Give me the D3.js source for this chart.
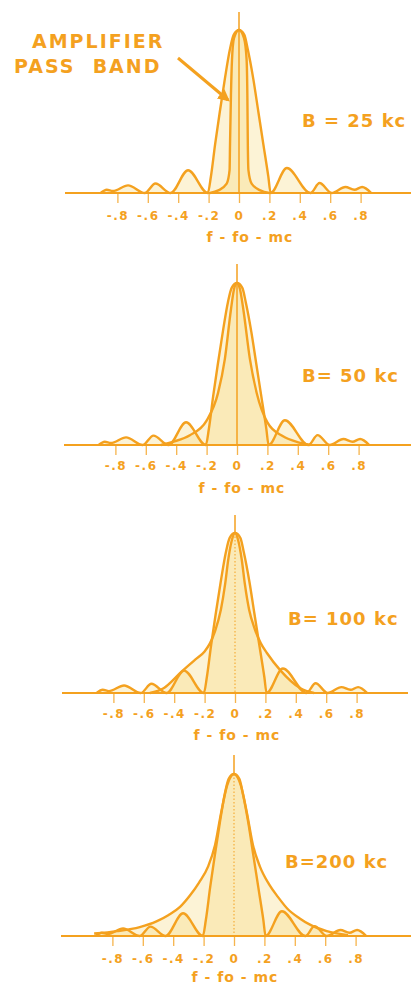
<!DOCTYPE html>
<html>
<head>
    <meta charset="UTF-8">
    <title>Pulse spectrum and amplifier pass band</title>
    <script src="https://d3js.org/d3.v7.min.js"></script>
    <style>
        body { margin: 0; background: #ffffff; }
        text { font-family: "DejaVu Sans", sans-serif; font-weight: bold; fill: #f4a11f; }
    </style>
</head>
<body>
<script>
    // tick values and labels on the f - fo axis (mc)
    var tickValues = [-0.8, -0.6, -0.4, -0.2, 0, 0.2, 0.4, 0.6, 0.8];
    var tickLabels = ["-.8", "-.6", "-.4", "-.2", "0", ".2", ".4", ".6", ".8"];

    // pulse spectrum (relative amplitude), same in every panel
    var specX = [-0.91, -0.87, -0.83, -0.73, -0.62, -0.55, -0.45, -0.335, -0.205, -0.185, -0.157, -0.126, -0.093, -0.06, -0.035, 0,
                 0.035, 0.058, 0.094, 0.127, 0.16, 0.193, 0.208, 0.315, 0.47, 0.53, 0.61, 0.70, 0.76, 0.81, 0.87];
    var specV = [0, 0.02, 0.012, 0.047, 0, 0.058, 0, 0.14, 0, 0.1, 0.3, 0.5, 0.7, 0.88, 0.97, 1,
                 0.97, 0.88, 0.7, 0.5, 0.3, 0.1, 0, 0.153, 0, 0.061, 0, 0.037, 0.02, 0.037, 0];

    // amplifier pass band for each bandwidth
    var pass25X = [-0.19, -0.136, -0.081, -0.062, -0.059, -0.053, -0.046, -0.033, 0, 0.033, 0.05, 0.055, 0.058, 0.062, 0.083, 0.14, 0.2];
    var pass25V = [0, 0.016, 0.057, 0.14, 0.3, 0.6, 0.82, 0.95, 1, 0.95, 0.82, 0.6, 0.3, 0.14, 0.057, 0.016, 0];

    var pass50X = [-0.5, -0.42, -0.31, -0.2, -0.125, -0.08, -0.04, -0.02, 0, 0.02, 0.042, 0.085, 0.13, 0.2, 0.3, 0.41, 0.48];
    var pass50V = [0, 0.02, 0.06, 0.15, 0.32, 0.53, 0.835, 0.96, 1, 0.96, 0.835, 0.53, 0.32, 0.14, 0.055, 0.015, 0];

    var pass100X = [-0.56, -0.47, -0.35, -0.26, -0.2, -0.165, -0.13, -0.093, -0.065, -0.045, -0.022, 0,
                    0.022, 0.045, 0.065, 0.093, 0.13, 0.17, 0.21, 0.3, 0.43, 0.52];
    var pass100V = [0, 0.03, 0.135, 0.21, 0.26, 0.31, 0.39, 0.52, 0.68, 0.83, 0.95, 1,
                    0.95, 0.83, 0.68, 0.52, 0.4, 0.31, 0.25, 0.14, 0.03, 0];

    var pass200X = [-0.92, -0.77, -0.62, -0.51, -0.43, -0.355, -0.29, -0.23, -0.17, -0.125, -0.085, -0.045, 0,
                    0.045, 0.085, 0.125, 0.17, 0.23, 0.29, 0.35, 0.43, 0.5, 0.61, 0.75];
    var pass200V = [0.015, 0.03, 0.055, 0.09, 0.13, 0.18, 0.25, 0.33, 0.43, 0.56, 0.76, 0.93, 1,
                    0.93, 0.76, 0.56, 0.43, 0.32, 0.24, 0.17, 0.11, 0.07, 0.03, 0.005];

    var bandLabels = ["B = 25 kc", "B= 50 kc", "B= 100 kc", "B=200 kc"];
    var passX = [pass25X, pass50X, pass100X, pass200X];
    var passV = [pass25V, pass50V, pass100V, pass200V];

    // where each panel sits on the page
    var layout = [
        {cx: 239, base: 193, peak: 30,  top: 12,  left: 65, right: 411, labX: 302, labY: 127, lblOff: 27, titleX: 250, titleY: 242, dotted: false},
        {cx: 237, base: 445, peak: 283, top: 264, left: 64, right: 411, labX: 302, labY: 382, lblOff: 25, titleX: 242, titleY: 493, dotted: false},
        {cx: 235, base: 693, peak: 533, top: 515, left: 62, right: 408, labX: 288, labY: 625, lblOff: 25, titleX: 237, titleY: 740, dotted: true},
        {cx: 234, base: 936, peak: 774, top: 755, left: 61, right: 411, labX: 285, labY: 868, lblOff: 27, titleX: 235, titleY: 982, dotted: true}
    ];

    var orange = "#f4a11f";
    var pxPerUnit = 152;

    var svg = d3.select("body").append("svg")
        .attr("width", 411)
        .attr("height", 986);

    function zip(xs, vs) {
        return xs.map(function(x, i) { return {x: x, v: vs[i]}; });
    }

    var spec = zip(specX, specV);

    layout.forEach(function(L, p) {
        var xScale = d3.scaleLinear()
            .domain([-1, 1])
            .range([L.cx - pxPerUnit, L.cx + pxPerUnit]);
        var yScale = d3.scaleLinear()
            .domain([0, 1])
            .range([L.base, L.peak]);

        var g = svg.append("g");
        var pass = zip(passX[p], passV[p]);

        var area = d3.area()
            .curve(d3.curveMonotoneX)
            .x(function(d) { return xScale(d.x); })
            .y0(L.base)
            .y1(function(d) { return yScale(d.v); });
        var line = d3.line()
            .curve(d3.curveMonotoneX)
            .x(function(d) { return xScale(d.x); })
            .y(function(d) { return yScale(d.v); });

        // light shading under both curves
        g.append("path").datum(spec).attr("d", area)
            .attr("fill", "#f6d36b").attr("fill-opacity", 0.28);
        g.append("path").datum(pass).attr("d", area)
            .attr("fill", "#f6d36b").attr("fill-opacity", 0.28);

        // vertical axis
        g.append("line")
            .attr("x1", xScale(0)).attr("x2", xScale(0))
            .attr("y1", L.top).attr("y2", yScale(1))
            .attr("stroke", orange).attr("stroke-width", 1.5);
        g.append("line")
            .attr("x1", xScale(0)).attr("x2", xScale(0))
            .attr("y1", yScale(1)).attr("y2", L.base)
            .attr("stroke", orange)
            .attr("stroke-width", L.dotted ? 1 : 1.5)
            .attr("stroke-dasharray", L.dotted ? "1.5,2" : null);

        // x axis ticks and labels
        var xAxis = d3.axisBottom(xScale)
            .tickValues(tickValues)
            .tickSize(10)
            .tickPadding(L.lblOff - 18.5)
            .tickFormat(function(d, i) { return tickLabels[i]; });
        var ax = g.append("g")
            .attr("transform", "translate(0," + L.base + ")")
            .call(xAxis);
        ax.select(".domain").remove();
        ax.selectAll(".tick line")
            .attr("stroke", orange).attr("stroke-width", 1.3).attr("stroke-opacity", 0.8);
        ax.selectAll(".tick text")
            .attr("fill", orange)
            .style("font-size", "12px")
            .style("letter-spacing", "1.5px");

        // baseline
        g.append("line")
            .attr("x1", L.left).attr("x2", L.right)
            .attr("y1", L.base).attr("y2", L.base)
            .attr("stroke", orange).attr("stroke-width", 2);

        // curves
        g.append("path").datum(spec).attr("d", line)
            .attr("fill", "none").attr("stroke", orange)
            .attr("stroke-width", 2.4).attr("stroke-linejoin", "round");
        g.append("path").datum(pass).attr("d", line)
            .attr("fill", "none").attr("stroke", orange)
            .attr("stroke-width", 2.4).attr("stroke-linejoin", "round");

        // labels
        g.append("text")
            .attr("x", L.labX).attr("y", L.labY)
            .style("font-size", "18px")
            .style("letter-spacing", "1px")
            .text(bandLabels[p]);
        g.append("text")
            .attr("x", L.titleX).attr("y", L.titleY)
            .attr("text-anchor", "middle")
            .style("font-size", "14px")
            .style("letter-spacing", "1px")
            .text("f - fo - mc");
    });

    // "amplifier pass band" callout with arrow
    svg.append("defs").append("marker")
        .attr("id", "head")
        .attr("viewBox", "0 0 10 10")
        .attr("refX", 8).attr("refY", 5)
        .attr("markerWidth", 4).attr("markerHeight", 4)
        .attr("orient", "auto")
        .append("path")
        .attr("d", "M0,0 L10,5 L0,10 z")
        .attr("fill", orange);

    svg.append("line")
        .attr("x1", 178).attr("y1", 58)
        .attr("x2", 228).attr("y2", 100)
        .attr("stroke", orange).attr("stroke-width", 3)
        .attr("marker-end", "url(#head)");

    svg.append("text")
        .attr("x", 32).attr("y", 48)
        .style("font-size", "19px")
        .style("letter-spacing", "2px")
        .text("AMPLIFIER");
    svg.append("text")
        .attr("x", 14).attr("y", 73)
        .style("font-size", "19px")
        .style("letter-spacing", "2px")
        .style("white-space", "pre")
        .text("PASS  BAND");
</script>
</body>
</html>
